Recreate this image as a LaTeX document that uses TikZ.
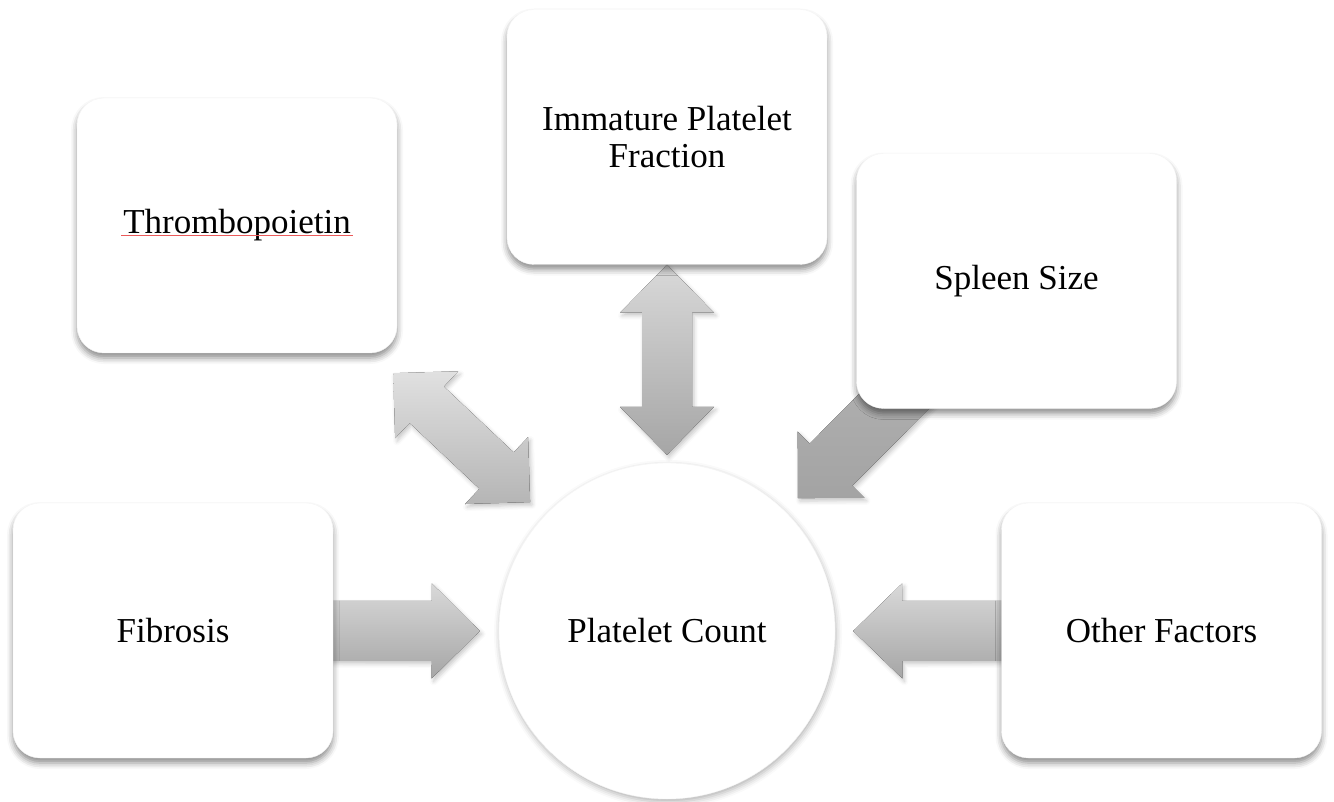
\documentclass[tikz,border=0pt]{standalone}
\usepackage{fontspec}
\setmainfont{Liberation Serif}
\usetikzlibrary{calc,shadows.blur}
\pgfdeclarelayer{background}
\pgfsetlayers{background,main}
\definecolor{squigred}{RGB}{235,90,90}
\tikzset{
  factor/.style={rectangle, rounded corners=27pt, minimum width=320pt, minimum height=255pt,
    fill=white, draw=black!4, align=center, font=\fontsize{35}{37}\selectfont,
    blur shadow={shadow xshift=0pt, shadow yshift=-5pt, shadow blur radius=6pt, shadow opacity=45}},
  hub/.style={circle, minimum size=336pt, fill=white, draw=black!4, font=\fontsize{35}{37}\selectfont,
    blur shadow={shadow xshift=1pt, shadow yshift=-3pt, shadow blur radius=6pt, shadow opacity=30}},
  barrow/.style={top color=black!15, bottom color=black!35,
    blur shadow={shadow xshift=2pt, shadow yshift=-3pt, shadow blur radius=4pt, shadow opacity=22}},
  squig/.style={fill=squigred}
}
\newcommand{\sglarrow}[6][]{%
  \path ($(#3)!#6!(#2)$) coordinate (hB);
  \fill[barrow,#1] ($(#2)!#4!90:(#3)$) -- ($(hB)!#4!90:(#3)$) -- ($(hB)!#5!90:(#3)$) -- (#3)
    -- ($(hB)!#5!-90:(#3)$) -- ($(hB)!#4!-90:(#3)$) -- ($(#2)!#4!-90:(#3)$) -- cycle;}
\newcommand{\dblarrow}[6][]{%
  \path ($(#2)!#6!(#3)$) coordinate (hA) ($(#3)!#6!(#2)$) coordinate (hB);
  \fill[barrow,#1] (#2) -- ($(hA)!#5!90:(#3)$) -- ($(hA)!#4!90:(#3)$) -- ($(hB)!#4!90:(#3)$)
    -- ($(hB)!#5!90:(#3)$) -- (#3) -- ($(hB)!#5!-90:(#3)$) -- ($(hB)!#4!-90:(#3)$)
    -- ($(hA)!#4!-90:(#3)$) -- ($(hA)!#5!-90:(#3)$) -- cycle;}
\begin{document}
\begin{tikzpicture}[x=1pt,y=-1pt]
  \useasboundingbox (0,0) rectangle (1334,802);
  \draw
    (237,225.5) node[factor, label={[name=thrword, inner sep=0pt, font=\fontsize{35}{37}\selectfont]center:Thrombopoietin}] (thr) {}
    (667,137) node[factor] (ipf) {Immature Platelet\\Fraction}
    (1016.5,281) node[factor] (spl) {Spleen Size}
    (173,630.5) node[factor] (fib) {Fibrosis}
    (1161.5,630.5) node[factor] (oth) {Other Factors}
    (667,631) node[hub] (plc) {Platelet Count};
  \path[squig] ($(thrword.base west)+(-2,1)$) rectangle ($(thrword.base east)+(2,2.3)$);
  \begin{pgfonlayer}{background}
    \coordinate (fibtip) at ($(plc.west)+(-19,0)$);
    \coordinate (othtip) at ($(plc.east)+(18,0)$);
    \coordinate (ipftip) at ($(plc.north)+(0,-8)$);
    \coordinate (thrA) at ($(thr.south east)+(-4,20)$);
    \coordinate (thrB) at ($(plc.135)+(-18,-10)$);
    \coordinate (splA) at ($(spl.south west)+(70,-40)$);
    \coordinate (splB) at ($(plc.45)+(12,-14)$);
    \sglarrow{fib.center}{fibtip}{30pt}{47.5pt}{48pt}
    \sglarrow{oth.center}{othtip}{30pt}{47.5pt}{49pt}
    \dblarrow{ipf.south}{ipftip}{25pt}{47pt}{48pt}
    \dblarrow[top color=black!12, bottom color=black!29]{thrA}{thrB}{25pt}{46pt}{46pt}
    \sglarrow[top color=black!30, bottom color=black!36]{splA}{splB}{30pt}{47pt}{47pt}
  \end{pgfonlayer}
\end{tikzpicture}
\end{document}
